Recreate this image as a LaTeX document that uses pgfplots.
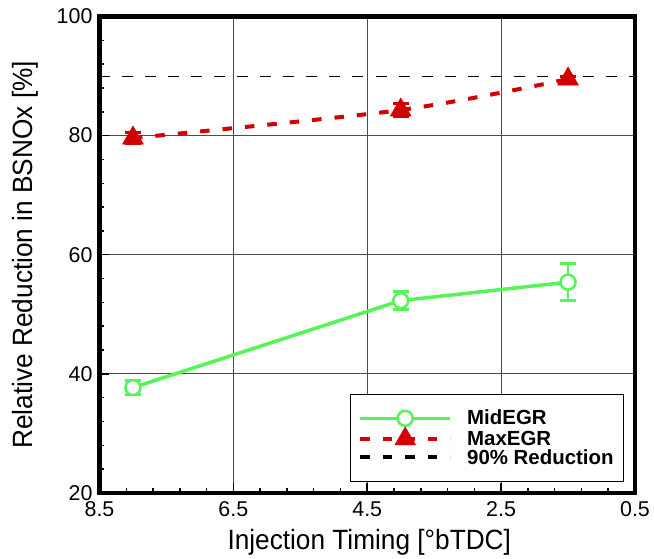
\documentclass[border=0pt]{standalone}
\usepackage{fontspec}
\setmainfont{Liberation Sans}
\newfontfamily\labelfont[FakeStretch=0.94]{Liberation Sans}
\usepackage{pgfplots}
\pgfplotsset{compat=1.18}

\definecolor{midgreen}{RGB}{85,245,85}
\definecolor{maxred}{RGB}{210,0,0}

\begin{document}
\begin{tikzpicture}
\begin{axis}[
  name=ax,
  scale only axis,
  width=535.5bp, height=476.5bp,
  x dir=reverse,
  xmin=0.5, xmax=8.5, ymin=20, ymax=100,
  xtick={0.5,2.5,4.5,6.5,8.5},
  xticklabels={0.5,2.5,4.5,6.5,8.5},
  ytick={20,40,60,80,100},
  minor tick num=4,
  grid=major,
  major grid style={black!70, line width=0.8pt},
  axis line style={line width=4.5bp},
  tick style={black, line width=1.5pt},
  major tick length=10bp, minor tick length=5bp,
  tick pos=left, tick align=inside,
  ticklabel style={font=\fontsize{21.5}{21.5}\selectfont},
  xticklabel style={yshift=-5.5bp},
  yticklabel style={xshift=-3.5bp},
  /pgf/number format/assume math mode=true,
  xlabel={Injection Timing [°bTDC]},
  ylabel={Relative Reduction in BSNOx [\%]},
  label style={font=\labelfont\fontsize{28}{28}\selectfont},
  xlabel style={at={(axis description cs:0.5,0)}, anchor=base,
    yshift=-56.5bp, xshift=2bp},
  ylabel style={at={(axis description cs:-0.1242,0.5)}, anchor=base},
  legend style={
    at={(1,0)}, anchor=south east, xshift=-11bp, yshift=11bp,
    draw=black, line width=0.8pt,
    font=\bfseries\fontsize{20.5}{20.5}\selectfont,
    inner xsep=8bp, inner ysep=14bp,
    row sep=-1.5bp,
    /tikz/every odd column/.append style={column sep=13bp},
  },
  legend cell align=left,
  legend image code/.code={
    \draw[mark repeat=2, mark phase=2, #1]
      plot coordinates {(0bp,0bp) (45bp,0bp) (90bp,0bp)};
  },
]
% 90 % reduction reference line
\addplot[black, line width=1bp, dash pattern=on 11bp off 12bp, forget plot]
  coordinates {(8.5,90) (0.5,90)};

% MidEGR
\addplot[midgreen, line width=3.5bp,
  mark=*, mark size=7.5bp,
  mark options={fill=white, draw=midgreen, line width=2.5bp},
  error bars/.cd, y dir=both, y explicit,
  error bar style={line width=2.5bp, midgreen},
  error mark options={rotate=90, mark size=8bp, line width=3bp, midgreen}]
  coordinates {
    (8.0,37.7) +- (0,1.2)
    (4.0,52.3) +- (0,1.55)
    (1.5,55.4) +- (0,3.1)
  };
\addlegendentry{MidEGR}

% MaxEGR
\addplot[maxred, line width=4bp, smooth, dash pattern=on 9.5bp off 13bp,
  mark=triangle*, mark size=12bp,
  mark options={solid, fill=maxred, draw=maxred, line width=0.5bp},
  error bars/.cd, y dir=both, y explicit,
  error bar style={line width=2.5bp, maxred, solid},
  error mark options={rotate=90, mark size=8bp, line width=3bp, maxred, solid}]
  coordinates {
    (8.0,79.6) +- (0,1.0)
    (4.0,84.3) +- (0,1.1)
    (1.5,89.5) +- (0,0.5)
  };
\addlegendentry{MaxEGR}

\addlegendimage{black, line width=4bp, dash pattern=on 9.5bp off 13bp}
\addlegendentry{90\% Reduction}
\end{axis}
% page size: fixed margins around the plot area
\pgfresetboundingbox
\path ([xshift=-99.5bp, yshift=-65bp]ax.south west)
  rectangle ([xshift=19bp, yshift=16.5bp]ax.north east);
\end{tikzpicture}
\end{document}
